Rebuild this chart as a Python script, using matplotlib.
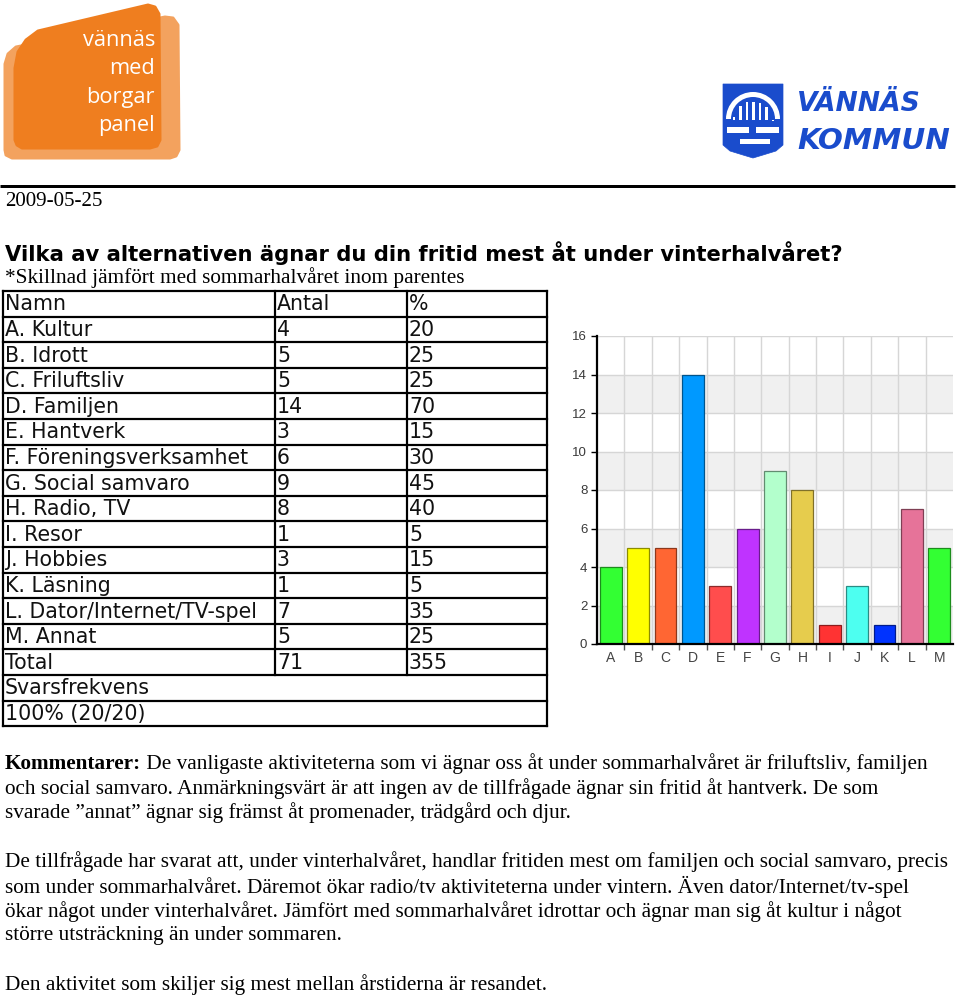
import matplotlib
matplotlib.use("Agg")
import matplotlib.pyplot as plt
from matplotlib.patches import Polygon, Rectangle, Wedge
import matplotlib.colors as mcolors
import numpy as np

# ---------------- data ----------------
categories = ["A", "B", "C", "D", "E", "F", "G", "H", "I", "J", "K", "L", "M"]
names = ["A. Kultur", "B. Idrott", "C. Friluftsliv", "D. Familjen", "E. Hantverk",
         "F. Föreningsverksamhet", "G. Social samvaro", "H. Radio, TV", "I. Resor",
         "J. Hobbies", "K. Läsning", "L. Dator/Internet/TV-spel", "M. Annat"]
antal = [4, 5, 5, 14, 3, 6, 9, 8, 1, 3, 1, 7, 5]
procent = [20, 25, 25, 70, 15, 30, 45, 40, 5, 15, 5, 35, 25]
total_antal = 71
total_procent = 355
svarsfrekvens_label = "Svarsfrekvens"
svarsfrekvens = "100% (20/20)"
header = ["Namn", "Antal", "%"]
bar_colors = ["#33ff33", "#ffff00", "#ff6633", "#0099ff", "#ff4d4d", "#bf33ff",
              "#b3ffcc", "#e6cc4d", "#ff3333", "#4dfff0", "#0033ff", "#e67399", "#33ff33"]
y_ticks = [0, 2, 4, 6, 8, 10, 12, 14, 16]

date_text = "2009-05-25"
title_text = "Vilka av alternativen ägnar du din fritid mest åt under vinterhalvåret?"
subtitle_text = "*Skillnad jämfört med sommarhalvåret inom parentes"
comment_bold = "Kommentarer:"
comment_lines = [
    " De vanligaste aktiviteterna som vi ägnar oss åt under sommarhalvåret är friluftsliv, familjen",
    "och social samvaro. Anmärkningsvärt är att ingen av de tillfrågade ägnar sin fritid åt hantverk. De som",
    "svarade \u201dannat\u201d ägnar sig främst åt promenader, trädgård och djur.",
]
para2_lines = [
    "De tillfrågade har svarat att, under vinterhalvåret, handlar fritiden mest om familjen och social samvaro, precis",
    "som under sommarhalvåret. Däremot ökar radio/tv aktiviteterna under vintern. Även dator/Internet/tv-spel",
    "ökar något under vinterhalvåret. Jämfört med sommarhalvåret idrottar och ägnar man sig åt kultur i något",
    "större utsträckning än under sommaren.",
]
para3_line = "Den aktivitet som skiljer sig mest mellan årstiderna är resandet."

# ---------------- page ----------------
W, H = 960, 999
fig = plt.figure(figsize=(W / 100, H / 100), dpi=100)
page = fig.add_axes([0, 0, 1, 1])
page.set_xlim(0, W)
page.set_ylim(H, 0)
page.axis("off")
renderer = fig.canvas.get_renderer()

PX = 0.72  # points per pixel


def width_of(t):
    return t.get_window_extent(renderer).width


def fit(t, target):
    for _ in range(3):
        t.set_fontsize(t.get_fontsize() * target / width_of(t))
    return t


def put(x, y, s, size=12, **kw):
    kw.setdefault("ha", "left")
    kw.setdefault("va", "center")
    return page.text(x, y, s, fontsize=size, **kw)


# ---- orange logo ----
light = "#f3a25e"
dark = "#ef7e1f"
light_shape = [(5, 150), (5, 64), (8, 54), (16, 47), (165, 17), (173, 18), (178, 25),
               (179, 150), (176, 156), (170, 158), (12, 158), (6, 155)]
dark_shape = [(15, 140), (15, 68), (18, 52), (26, 40), (38, 31), (148, 5), (155, 7),
              (159, 14), (160, 140), (157, 146), (150, 148), (22, 148), (17, 145)]
page.add_patch(Polygon(light_shape, closed=True, facecolor=light, edgecolor=light,
                       lw=3 * PX, joinstyle="round"))
page.add_patch(Polygon(dark_shape, closed=True, facecolor=dark, edgecolor=dark,
                       lw=3 * PX, joinstyle="round"))
logo_words = ["vännäs", "med", "borgar", "panel"]
logo_y = [40, 69, 97, 126]
t0 = put(155, logo_y[0], logo_words[0], 18, ha="right", color="white", family="Open Sans")
fit(t0, 72)
for w, yy in zip(logo_words[1:], logo_y[1:]):
    put(155, yy, w, t0.get_fontsize(), ha="right", color="white", family="Open Sans")

# ---- blue logo ----
blue = "#1a4ccc"
shield = [(723, 84), (783, 84), (783, 145), (776, 151), (763, 155), (753, 158),
          (743, 155), (730, 151), (723, 145)]
page.add_patch(Polygon(shield, closed=True, facecolor=blue, edgecolor=blue, lw=0.5))
page.add_patch(Wedge((753, 119), 27, 180, 360, width=5, facecolor="white", edgecolor="none"))
for bx in [734, 740.5, 747, 753.5, 760, 766.5, 773]:
    dx = bx - 753
    top = 119 - np.sqrt(max(19.5 ** 2 - dx ** 2, 0)) + 2
    page.add_patch(Rectangle((bx - 1.4, top), 2.8, 120 - top, facecolor="white", edgecolor="none"))
page.add_patch(Rectangle((727, 127), 22, 6, facecolor="white", edgecolor="none"))
page.add_patch(Rectangle((756, 127), 23, 6, facecolor="white", edgecolor="none"))
page.add_patch(Rectangle((740, 139), 30, 5, facecolor="white", edgecolor="none"))
logo_font = ["Liberation Sans Narrow", "DejaVu Sans"]
tv = put(797, 104, "VÄNNÄS", 20, color=blue, weight="bold", style="italic", family=logo_font)
fit(tv, 124)
tk = put(797, 141, "KOMMUN", 20, color=blue, weight="bold", style="italic", family=logo_font)
fit(tk, 153)

# ---- rule ----
page.plot([0, 955], [186, 186], color="black", lw=3 * PX, solid_capstyle="butt")

# ---- header texts ----
serif = "Liberation Serif"
td = put(5, 201, date_text, 14, family=serif)
fit(td, 98)
tt = put(5, 253, title_text, 16, family="DejaVu Sans", weight="bold")
fit(tt, 837)
ts = put(5, 278, subtitle_text, 14, family=serif)
fit(ts, 460)

# ---- table ----
row_top = 291.0
row_h = 25.6
n_rows = 17
x_left, x_c1, x_c2, x_right = 3, 275, 407, 547
tbl_lw = 2.2 * PX
for i in range(n_rows + 1):
    yy = row_top + i * row_h
    page.plot([x_left, x_right], [yy, yy], color="black", lw=tbl_lw, solid_capstyle="projecting")
y_bot = row_top + n_rows * row_h
page.plot([x_left, x_left], [row_top, y_bot], color="black", lw=tbl_lw)
page.plot([x_right, x_right], [row_top, y_bot], color="black", lw=tbl_lw)
y_split = row_top + 15 * row_h
page.plot([x_c1, x_c1], [row_top, y_split], color="black", lw=tbl_lw)
page.plot([x_c2, x_c2], [row_top, y_split], color="black", lw=tbl_lw)

probe = put(5, -100, names[11], 14, family="DejaVu Sans")
fit(probe, 253)
tfs = probe.get_fontsize()
probe.remove()

rows = [header] + [[n, str(a), str(p)] for n, a, p in zip(names, antal, procent)] + \
       [["Total", str(total_antal), str(total_procent)]]
col_x = [5, 277, 409]
for i, r in enumerate(rows):
    yc = row_top + (i + 0.5) * row_h + 0.5
    for cx, s in zip(col_x, r):
        put(cx, yc, s, tfs, family="DejaVu Sans", color="#111111")
put(5, row_top + 15.5 * row_h + 0.5, svarsfrekvens_label, tfs, family="DejaVu Sans", color="#111111")
put(5, row_top + 16.5 * row_h + 0.5, svarsfrekvens, tfs, family="DejaVu Sans", color="#111111")

# ---- comments ----
probe = put(5, -100, para2_lines[0], 14, family=serif)
fit(probe, 946)
cfs = probe.get_fontsize()
probe.remove()

tb = put(5, 764, comment_bold, cfs, family=serif, weight="bold")
bx_end = 5 + width_of(tb)
put(bx_end, 764, comment_lines[0], cfs, family=serif)
put(5, 789, comment_lines[1], cfs, family=serif)
put(5, 813, comment_lines[2], cfs, family=serif)
for k, line in enumerate(para2_lines):
    put(5, 862 + k * 24.6, line, cfs, family=serif)
put(5, 985, para3_line, cfs, family=serif)

# ---------------- bar chart ----------------
ax_l, ax_r, ax_t, ax_b = 597, 953, 336, 644
ax = fig.add_axes([ax_l / W, 1 - ax_b / H, (ax_r - ax_l) / W, (ax_b - ax_t) / H])
x = np.arange(len(categories))
edge_cols = [tuple(np.array(mcolors.to_rgb(c)) * 0.55) for c in bar_colors]
ax.bar(x, antal, width=0.8, color=bar_colors, edgecolor=edge_cols, linewidth=0.9, zorder=3)
ax.set_xlim(-0.5, len(categories) - 0.5)
ax.set_ylim(0, 16)
for lo in range(0, 16, 4):
    ax.axhspan(lo, lo + 2, color="#f0f0f0", zorder=0, lw=0)
for yv in y_ticks[1:]:
    ax.axhline(yv, color="#d6d6d6", lw=1.0, zorder=1)
for b in np.arange(0.5, len(categories) - 0.5):
    ax.axvline(b, color="#d6d6d6", lw=1.0, zorder=1)
for s in ["top", "right"]:
    ax.spines[s].set_visible(False)
for s in ["left", "bottom"]:
    ax.spines[s].set_color("black")
    ax.spines[s].set_linewidth(1.6)
    ax.spines[s].set_zorder(4)
ax.set_yticks(y_ticks)
ax.set_yticklabels([str(v) for v in y_ticks], family="Liberation Sans", fontsize=9.5, color="#3a3a3a")
ax.set_xticks(x)
ax.set_xticklabels(categories, family="Liberation Sans", fontsize=10, color="#444444")
ax.set_xticks(np.arange(0.5, len(categories) - 0.5), minor=True)
ax.tick_params(axis="x", which="major", length=0, pad=5)
ax.tick_params(axis="x", which="minor", length=4, width=1, color="#555555")
ax.tick_params(axis="y", length=4, width=1, color="black", pad=3)

fig.savefig("out.png", dpi=100)
